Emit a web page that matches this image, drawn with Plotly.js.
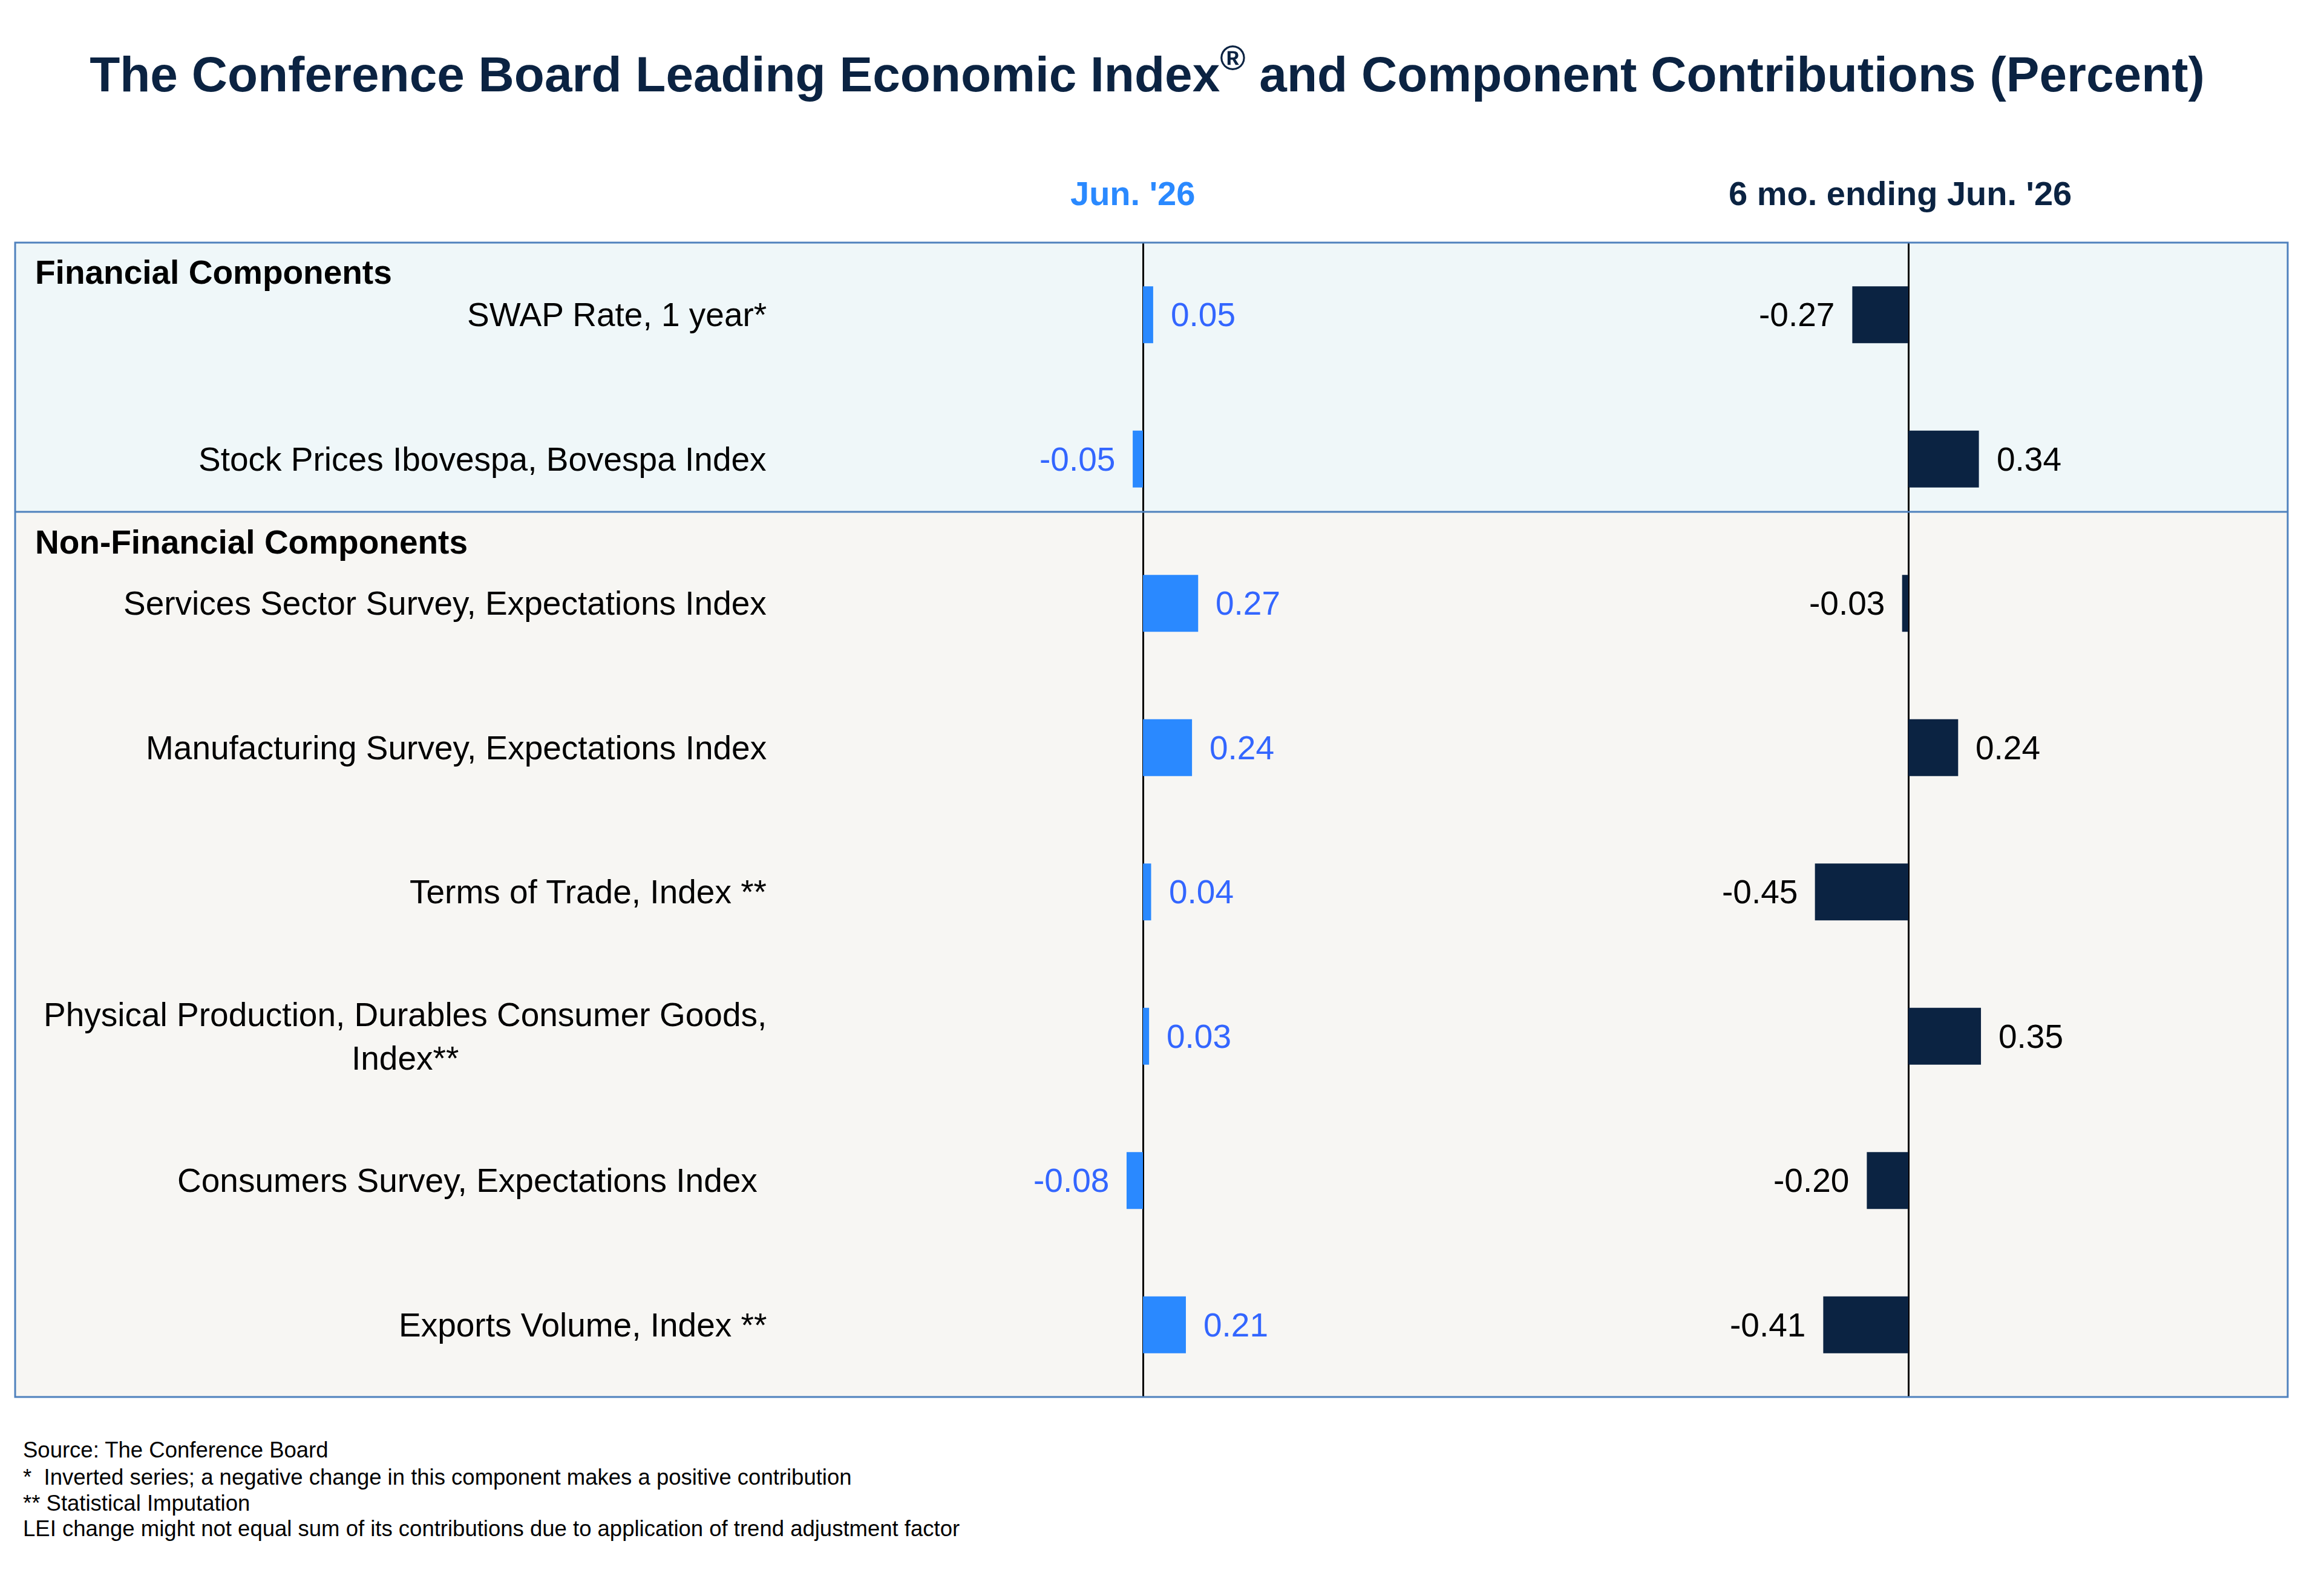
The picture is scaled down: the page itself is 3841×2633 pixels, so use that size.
<!DOCTYPE html>
<html>
<head>
<meta charset="utf-8">
<script src="https://cdn.plot.ly/plotly-3.0.1.min.js"></script>
<style>
  html, body { margin: 0; padding: 0; background: #ffffff; }
  #chart { width: 3841px; height: 2633px; }
</style>
</head>
<body>
<div id="chart"></div>
<script>
/* LEI component contributions, Jun. '26 and 6 months ending Jun. '26 */

// ---- data ----
const components = [
  "SWAP Rate, 1 year*",
  "Stock Prices Ibovespa, Bovespa Index",
  "Services Sector Survey, Expectations Index",
  "Manufacturing Survey, Expectations Index",
  "Terms of Trade, Index **",
  "Physical Production, Durables Consumer Goods,<br>Index**",
  "Consumers Survey, Expectations Index\u00a0",
  "Exports Volume, Index **",
];
const monthly  = [0.05, -0.05, 0.27, 0.24, 0.04, 0.03, -0.08, 0.21];
const sixMonth = [-0.27, 0.34, -0.03, 0.24, -0.45, 0.35, -0.20, -0.41];

const columnHeads = ["Jun. '26", "6 mo. ending Jun. '26"];
const groupHeads  = ["Financial Components", "Non-Financial Components"];
const footnotes = [
  "Source: The Conference Board",
  "*\u00a0 Inverted series; a negative change in this component makes a positive contribution",
  "** Statistical Imputation",
  "LEI change might not equal sum of its contributions due to application of trend adjustment factor",
];
const title = "The Conference Board Leading Economic Index<sup>®</sup> and Component Contributions (Percent)";

// ---- palette ----
const C = {
  navy: "#0b2342",
  blue: "#2a89ff",
  blueText: "#3366ff",
  finBg: "#eff7f9",
  nonFinBg: "#f7f6f3",
  border: "#4f81bd",
};
const FONT = "Arial, 'Liberation Sans', sans-serif";

// pixel helpers (figure is 3841 x 2633, plot area spans y 401..2309)
const W = 3841, H = 2633, TOP = 401, BOT = 2309;
const px = x => x / W;
const py = y => (BOT - y) / (BOT - TOP);

const splitY = py(846);
const boxX0 = px(25), boxX1 = px(3781);

// ---- traces ----
const barW = 0.395;
const traces = [
  {
    type: "bar", orientation: "h",
    x: monthly, y: components,
    xaxis: "x", yaxis: "y",
    width: barW,
    marker: { color: C.blue },
    hoverinfo: "skip",
  },
  {
    type: "bar", orientation: "h",
    x: sixMonth, y: components,
    xaxis: "x2", yaxis: "y",
    width: barW,
    marker: { color: C.navy },
    hoverinfo: "skip",
  },
];

// ---- annotations ----
const ann = [];
const LABEL_SIZE = 55;

// row labels
components.forEach(c => {
  ann.push({
    xref: "paper", yref: "y", x: px(1269), y: c,
    xanchor: "right", yanchor: "middle", align: "center",
    text: c, showarrow: false,
    font: { family: FONT, size: LABEL_SIZE, color: "#000000" },
  });
});

// value labels
function valueLabels(vals, xref, color) {
  vals.forEach((v, i) => {
    ann.push({
      xref, yref: "y", x: v, y: components[i],
      xanchor: v < 0 ? "right" : "left", yanchor: "middle",
      xshift: v < 0 ? -27 : 27,
      text: v.toFixed(2), showarrow: false,
      font: { family: FONT, size: LABEL_SIZE, color },
    });
  });
}
valueLabels(monthly, "x", C.blueText);
valueLabels(sixMonth, "x2", "#000000");

// column heads
ann.push({
  xref: "paper", yref: "paper", x: px(1872), y: py(320),
  xanchor: "center", yanchor: "middle", text: "<b>" + columnHeads[0] + "</b>",
  showarrow: false, font: { family: FONT, size: 56, color: C.blue },
});
ann.push({
  xref: "paper", yref: "paper", x: px(3140), y: py(320),
  xanchor: "center", yanchor: "middle", text: "<b>" + columnHeads[1] + "</b>",
  showarrow: false, font: { family: FONT, size: 56, color: C.navy },
});

// group heads
[[groupHeads[0], 450], [groupHeads[1], 896]].forEach(([t, y]) => {
  ann.push({
    xref: "paper", yref: "paper", x: px(56), y: py(y),
    xanchor: "left", yanchor: "middle", text: "<b>" + t + "</b>",
    showarrow: false, font: { family: FONT, size: 55, color: "#000000" },
  });
});

// footnotes
[2396, 2441, 2484, 2526].forEach((y, i) => {
  ann.push({
    xref: "paper", yref: "paper", x: px(36), y: py(y),
    xanchor: "left", yanchor: "middle", text: footnotes[i],
    showarrow: false, font: { family: FONT, size: 36.5, color: "#000000" },
  });
});

// ---- shapes ----
const shapes = [
  { type: "rect", xref: "paper", yref: "paper", x0: boxX0, x1: boxX1, y0: splitY, y1: 1,
    fillcolor: C.finBg, line: { width: 0 }, layer: "below" },
  { type: "rect", xref: "paper", yref: "paper", x0: boxX0, x1: boxX1, y0: 0, y1: splitY,
    fillcolor: C.nonFinBg, line: { width: 0 }, layer: "below" },
  { type: "line", xref: "paper", yref: "paper", x0: boxX0, x1: boxX1, y0: splitY, y1: splitY,
    line: { color: C.border, width: 3 }, layer: "above" },
  { type: "rect", xref: "paper", yref: "paper", x0: boxX0, x1: boxX1, y0: 0, y1: 1,
    fillcolor: "rgba(0,0,0,0)", line: { color: C.border, width: 3 }, layer: "above" },
];

// ---- axes ----
const R = 1.8;
function xAxis(zeroPx, pxPerUnit) {
  const half = R * pxPerUnit;
  return {
    domain: [px(zeroPx - half), px(zeroPx + half)],
    range: [-R, R],
    showgrid: false, showticklabels: false, ticks: "",
    showline: false,
    zeroline: true, zerolinecolor: "#000000", zerolinewidth: 3,
    fixedrange: true,
  };
}

const layout = {
  width: W, height: H,
  paper_bgcolor: "#ffffff",
  plot_bgcolor: "rgba(0,0,0,0)",
  margin: { l: 0, r: 0, t: TOP, b: H - BOT, pad: 0 },
  showlegend: false,
  title: {
    text: "<b>" + title + "</b>",
    xref: "paper", x: px(1896), xanchor: "center",
    yref: "container", y: 1 - 122 / H, yanchor: "middle",
    font: { family: FONT, size: 82, color: C.navy },
  },
  xaxis: { ...xAxis(1889, 338), anchor: "y" },
  xaxis2: { ...xAxis(3154, 343), anchor: "y" },
  yaxis: {
    type: "category",
    categoryorder: "array", categoryarray: components,
    range: [components.length - 0.5, -0.5],
    showgrid: false, zeroline: false, showticklabels: false, ticks: "",
    showline: false, fixedrange: true,
  },
  shapes,
  annotations: ann,
  bargap: 0.6,
};

Plotly.newPlot("chart", traces, layout, { displayModeBar: false, staticPlot: true });
</script>
</body>
</html>
